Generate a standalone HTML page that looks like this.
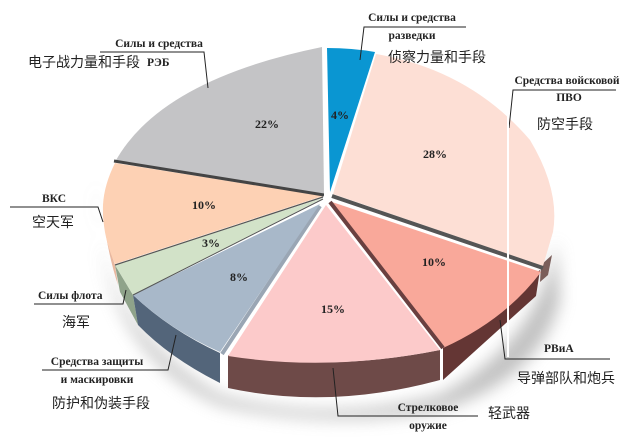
<!DOCTYPE html>
<html><head><meta charset="utf-8"><style>
html,body{margin:0;padding:0;background:#fff;}
svg{display:block;}
.ru{font-family:"Liberation Serif",serif;font-weight:bold;font-size:11.5px;fill:#222;}
.cn{font-family:"Liberation Sans","Noto Sans CJK SC",sans-serif;font-size:14px;fill:#222;}
.pc{font-family:"Liberation Serif",serif;font-weight:bold;font-size:12px;fill:#222;}
</style></head><body>
<svg width="640" height="442" viewBox="0 0 640 442" xmlns="http://www.w3.org/2000/svg">
<defs><filter id="b" x="-20%" y="-20%" width="140%" height="140%"><feGaussianBlur stdDeviation="8"/></filter></defs>
<path d="M96,180 Q90,320 220,395 Q330,425 440,395 Q540,340 556,240 L560,300 Q540,380 440,410 Q330,430 220,405 Q95,350 96,180Z" fill="#999" opacity="0.6" filter="url(#b)"/>
<!-- sides -->
<path d="M103,205 Q106,240 115,265 L118,285 Q108,255 103,215Z" fill="#e8b8a0"/>
<path d="M115,265 L133,295 L138,325 L120,292Z" fill="#8fa38a"/>
<path d="M133,295 Q170,330 220,353 L220,383 Q170,358 138,325Z" fill="#53657a"/>
<path d="M228,355 Q330,372 440,350 L440,380 Q330,410 228,388Z" fill="#6e4a48"/>
<path d="M443,348 L540,270 L536,296 L443,380Z" fill="#643634"/>
<path d="M541,265 L552,255 L548,275 L540,282Z" fill="#7a5e5a"/>
<!-- top faces -->
<path d="M330,192 L327,48 Q352,48 375,52 Z" fill="#0a96d2"/>
<path d="M333,194 L376,54 Q470,70 530,140 Q560,190 553,232 L543,266 Z" fill="#fddfd5"/>
<path d="M332,196 L543,268" stroke="#555" stroke-width="4"/>
<path d="M332,202 L541,272 Q505,320 443,348 Z" fill="#f9a89a"/>
<path d="M330,202 L443,348" stroke="#6a4040" stroke-width="4"/>
<path d="M326,205 L440,350 Q330,372 228,356 Z" fill="#fccaca"/>
<path d="M320,206 L222,354" stroke="#9aa6b4" stroke-width="4"/>
<path d="M320,204 L220,352 Q170,330 133,295 Z" fill="#a8b8c9"/>
<path d="M323,198 L133,295 L115,265 Z" fill="#d2e2c8"/>
<path d="M323,196 L115,264 Q102,235 103,205 Q104,185 115,163 Z" fill="#fdd1b4"/>
<path d="M324,194 L115,162 Q160,80 322,47 Z" fill="#c4c4c6"/>
<path d="M324,195 L114,161" stroke="#444" stroke-width="3"/>
<path d="M323,197 L115,265" stroke="#555" stroke-width="1.2"/>
<path d="M323,199 L133,295" stroke="#555" stroke-width="1"/>
<line x1="325" y1="46" x2="325" y2="200" stroke="#fff" stroke-width="2"/>
<!-- percentages -->
<text class="pc" x="331" y="119">4%</text>
<text class="pc" x="255" y="128">22%</text>
<text class="pc" x="423" y="158">28%</text>
<text class="pc" x="192" y="209">10%</text>
<text class="pc" x="202" y="247">3%</text>
<text class="pc" x="230" y="281">8%</text>
<text class="pc" x="422" y="266">10%</text>
<text class="pc" x="321" y="313">15%</text>
<!-- leaders -->
<g fill="none" stroke="#222" stroke-width="1">
<path d="M466,27 L364,27 L360,60"/>
<path d="M100,52 L204,52 L208,88"/>
<path d="M616,90 L513,90 L509,128"/>
<path d="M10,207 L98,207 L103,222"/>
<path d="M34,304 L123,304 L126,290"/>
<path d="M42,370 L168,370 L176,335"/>
<path d="M610,359 L505,359 L500,320"/>
<path d="M478,416 L338,416 L333,368"/>
</g>
<line x1="508" y1="92" x2="508" y2="357" stroke="#fff" stroke-width="2"/>
<!-- labels -->
<text class="ru" x="412" y="21" text-anchor="middle">Силы и средства</text>
<text class="ru" x="412" y="39" text-anchor="middle">разведки</text>
<text class="cn" x="388" y="62">侦察力量和手段</text>
<text class="ru" x="159" y="47" text-anchor="middle">Силы и средства</text>
<text class="cn" x="28" y="67">电子战力量和手段</text>
<text class="ru" x="147" y="66">РЭБ</text>
<text class="ru" x="567" y="84" text-anchor="middle">Средства войсковой</text>
<text class="ru" x="569" y="101" text-anchor="middle">ПВО</text>
<text class="cn" x="537" y="129">防空手段</text>
<text class="ru" x="42" y="202">ВКС</text>
<text class="cn" x="32" y="227">空天军</text>
<text class="ru" x="38" y="299">Силы флота</text>
<text class="cn" x="62" y="327">海军</text>
<text class="ru" x="97" y="365" text-anchor="middle">Средства защиты</text>
<text class="ru" x="97" y="383" text-anchor="middle">и маскировки</text>
<text class="cn" x="52" y="408">防护和伪装手段</text>
<text class="ru" x="544" y="352">РВиА</text>
<text class="cn" x="517" y="383">导弹部队和炮兵</text>
<text class="ru" x="428" y="411" text-anchor="middle">Стрелковое</text>
<text class="ru" x="428" y="429" text-anchor="middle">оружие</text>
<text class="cn" x="488" y="418">轻武器</text>
</svg>
</body></html>
